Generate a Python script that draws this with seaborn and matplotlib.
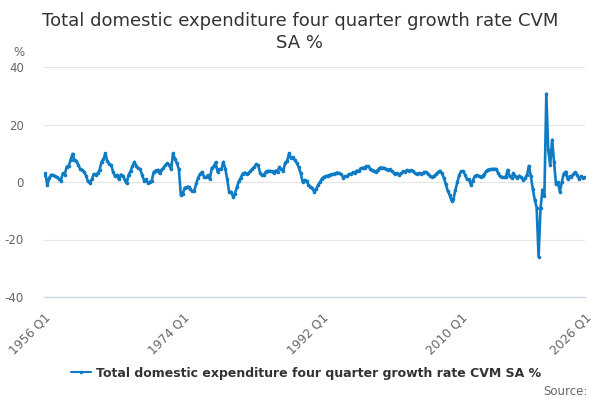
import matplotlib
matplotlib.use("Agg")
import matplotlib.pyplot as plt
import seaborn as sns
import pandas as pd

# quarters 1956 Q1 .. 2026 Q1
quarters = [f"{y} Q{q}" for y in range(1956, 2027) for q in range(1, 5)][:281]

growth = [
    2.5, 3.0, -1.2, 1.5, 2.5, 2.4, 2.0, 1.6, 1.0, 0.5,
    3.0, 2.6, 5.3, 5.6, 7.7, 9.8, 7.7, 7.4, 5.8, 4.5,
    4.2, 3.5, 2.2, 0.2, -0.4, 1.0, 2.8, 2.5, 3.0, 4.2,
    7.0, 7.9, 10.0, 7.2, 6.3, 5.8, 3.5, 2.0, 2.4, 0.9,
    2.6, 2.2, 0.8, -0.5, 2.5, 3.7, 5.5, 7.0, 5.5, 4.7,
    4.5, 2.5, 0.5, 0.9, -0.3, 0.0, 0.5, 3.5, 4.0, 4.2,
    3.0, 4.2, 4.9, 5.8, 6.5, 6.0, 4.4, 10.0, 7.9, 6.5,
    4.5, -4.4, -4.1, -2.0, -1.8, -1.6, -2.6, -3.3, -3.0, -0.5,
    1.5, 2.8, 3.5, 1.9, 1.6, 2.3, 1.0, 4.9, 5.4, 6.8,
    3.5, 4.4, 4.4, 7.0, 4.6, 1.0, -3.5, -3.4, -5.1, -4.0,
    -1.8, 0.2, 1.5, 2.9, 3.3, 2.7, 3.0, 3.8, 4.6, 5.2,
    6.2, 5.8, 3.2, 2.3, 2.5, 3.6, 3.9, 3.8, 3.8, 3.1,
    4.0, 3.6, 5.2, 4.4, 4.0, 6.7, 7.4, 10.0, 8.2, 8.6,
    7.5, 6.6, 5.1, 3.0, 0.0, 0.7, 0.2, -0.9, -1.6, -2.2,
    -3.4, -2.5, -1.0, 0.0, 1.2, 1.8, 2.0, 2.2, 2.5, 2.7,
    2.8, 3.0, 3.3, 3.0, 2.7, 1.5, 2.0, 2.0, 2.8, 2.7,
    3.4, 3.0, 4.0, 3.7, 4.8, 4.9, 5.0, 5.5, 5.4, 4.6,
    4.1, 3.8, 3.6, 4.3, 5.0, 5.0, 4.9, 4.6, 4.2, 4.4,
    3.7, 3.3, 2.9, 3.0, 2.6, 3.0, 3.7, 3.5, 4.2, 3.8,
    4.1, 3.8, 3.1, 2.7, 3.1, 2.9, 3.0, 3.5, 3.4, 2.8,
    2.0, 1.7, 2.1, 2.7, 3.4, 3.9, 3.0, 1.5, -0.7, -3.0,
    -4.5, -6.5, -5.8, -2.8, 0.0, 2.5, 3.7, 3.8, 2.5, 0.9,
    0.9, -1.0, 0.5, 2.0, 2.4, 2.0, 1.9, 2.1, 2.8, 3.8,
    4.3, 4.4, 4.5, 4.6, 4.5, 3.3, 2.0, 1.8, 1.6, 1.6,
    4.2, 2.0, 1.5, 3.0, 2.0, 1.5, 2.2, 1.6, 0.8, 1.3,
    2.4, 5.6, 2.0, -2.4, -6.1, -8.9, -26.0, -9.2, -2.7, -5.0,
    30.7, 11.0, 5.9, 14.7, 7.1, -0.8, -0.1, -3.4, -0.1, 2.9,
    3.6, 1.0, 2.0, 1.7, 2.7, 3.4, 2.4, 1.0, 2.0, 1.5,
    1.7,
]

series_name = "Total domestic expenditure four quarter growth rate CVM SA %"
y_ticks = [-40, -20, 0, 20, 40]
label_quarters = ["1956 Q1", "1974 Q1", "1992 Q1", "2010 Q1", "2026 Q1"]

df = pd.DataFrame({"quarter": quarters, "pos": range(len(quarters)), "value": growth})

sns.set_style("white")
plt.rcParams['font.family'] = ['DejaVu Sans']

fig = plt.figure(figsize=(6, 4), dpi=100)
ax = fig.add_axes([0.0725, 0.2575, 0.9025, 0.575])

blue = '#0f7bc4'
sns.lineplot(data=df, x="pos", y="value", ax=ax, color=blue, linewidth=1.9,
             marker='o', markersize=2.6, markeredgewidth=0, label=series_name)

ax.set_xlim(0, len(quarters) - 1)
ax.set_ylim(-40, 40)
ax.set_yticks(y_ticks)
ax.set_yticklabels([str(v) for v in y_ticks])
ax.grid(axis='y', color='#e6e6e6', linewidth=0.8)
ax.set_axisbelow(True)

ticks = list(range(0, len(quarters), 18)) + [len(quarters) - 1]
ax.set_xticks(ticks)
ax.set_xticklabels([quarters[t] if quarters[t] in label_quarters else "" for t in ticks],
                   rotation=45, ha='right', rotation_mode='anchor')
ax.tick_params(axis='x', length=8, color='#ccd6eb', labelsize=8.8, labelcolor='#666666', pad=2)
ax.tick_params(axis='y', length=0, labelsize=8.5, labelcolor='#666666', pad=14)
for lbl in ax.get_yticklabels():
    lbl.set_horizontalalignment('right')
ax.set_xlabel("")
ax.set_ylabel("")

for s in ['top', 'right', 'left']:
    ax.spines[s].set_visible(False)
ax.spines['bottom'].set_color('#ccd6eb')
ax.spines['bottom'].set_linewidth(1)

fig.text(0.5, 0.92, "Total domestic expenditure four quarter growth rate CVM\nSA %",
         ha='center', va='center', fontsize=13, color='#333333', linespacing=1.25)
fig.text(0.023, 0.868, "%", fontsize=8.5, color='#666666', ha='left', va='center')

leg = ax.legend(loc='center', bbox_to_anchor=(0.51, 0.0675), bbox_transform=fig.transFigure,
                frameon=False, prop={'weight': 'bold', 'size': 9}, handlelength=1.6,
                handletextpad=0.4)
for t in leg.get_texts():
    t.set_color('#333333')
for h in leg.get_lines():
    h.set_linewidth(1.5)

fig.text(0.98, 0.022, "Source:", fontsize=8.5, color='#666666', ha='right', va='center')

fig.savefig("out.png", dpi=100)
